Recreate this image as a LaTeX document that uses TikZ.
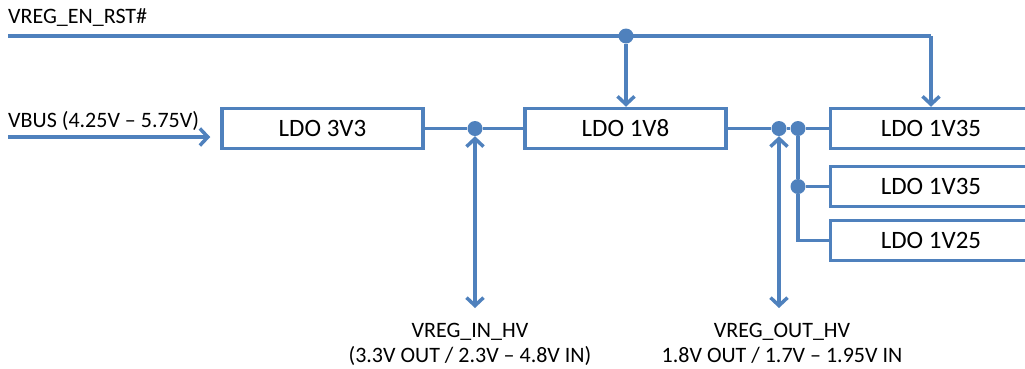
\documentclass[tikz,border=0pt]{standalone}
\usepackage{fontspec}
\setmainfont{Carlito}
\usetikzlibrary{arrows.meta}
\definecolor{wireblue}{HTML}{4F81BD}
\begin{document}
\begin{tikzpicture}[x=1pt, y=-1pt,
    ldo/.style={draw=wireblue, line width=3.5pt, minimum width=201pt, minimum height=40pt, inner sep=0pt, font=\fontsize{25}{29}\selectfont},
    dot/.style={circle, fill=wireblue, inner sep=0pt, minimum size=15pt},
    wire/.style={wireblue, line width=3.5pt},
    arrow/.style={wire, -{Straight Barb[length=8pt, width=17pt]}},
    twoway/.style={wire, {Straight Barb[length=8pt, width=17pt]}-{Straight Barb[length=8pt, width=17pt]}},
    lbl/.style={inner sep=0pt, font=\fontsize{22}{25}\selectfont}
]
\useasboundingbox (0,0) rectangle (1025,368);
\clip (0,0) rectangle (1025,368);

% Regulators
\node[ldo] (ldo3v3) at (322.5,128.5) {LDO 3V3};
\node[ldo] (ldo1v8) at (625.5,128.5) {LDO 1V8};
\node[ldo] (ldo1v35a) at (931,128.5) {LDO 1V35};
\node[ldo] (ldo1v35b) at (931,186.5) {LDO 1V35};
\node[ldo] (ldo1v25) at (931,240.5) {LDO 1V25};

% Junctions
\node[dot] (jen) at (626,36) {};
\node[dot] (jin) at (475,128.5) {};
\node[dot] (jout) at (779,128.5) {};
\node[dot] (jsplit) at (798,128.5) {};
\node[dot] (jmid) at (798,186.5) {};
\coordinate (enstart) at (8,36);
\coordinate (encorner) at (931,36);
\coordinate (vbus) at (8,137);
\coordinate (inhv) at (475,308);
\coordinate (outhv) at (779,308);

% Enable line
\draw[wire] (enstart) -- (encorner);
\draw[arrow] (encorner) -- (ldo1v35a.north);
\draw[arrow] (jen) -- (jen |- ldo1v8.north);

% Supply chain
\draw[arrow, shorten >=10pt] (vbus) -- (vbus -| ldo3v3.west);
\draw[wire] (ldo3v3) -- (jin) -- (ldo1v8);
\draw[wire] (ldo1v8) -- (jout) -- (jsplit) -- (ldo1v35a);
\draw[wire] (jsplit) -- (jmid) -- (ldo1v35b);
\draw[wire] (jmid) |- (ldo1v25.west);

% Rails
\draw[twoway] (jin) -- (inhv);
\draw[twoway] (jout) -- (outhv);

% Labels
\node[lbl, anchor=base west] (enlbl) at (8,23) {VREG\_EN\_RST\#};
\node[lbl, anchor=base west] (vbuslbl) at (8,127) {VBUS (4.25V – 5.75V)};
\node[lbl, anchor=north, align=center] (inlbl) at (470,323) {VREG\_IN\_HV\\(3.3V OUT / 2.3V – 4.8V IN)};
\node[lbl, anchor=north, align=center] (outlbl) at (782,323) {VREG\_OUT\_HV\\1.8V OUT / 1.7V – 1.95V IN};

\end{tikzpicture}
\end{document}
